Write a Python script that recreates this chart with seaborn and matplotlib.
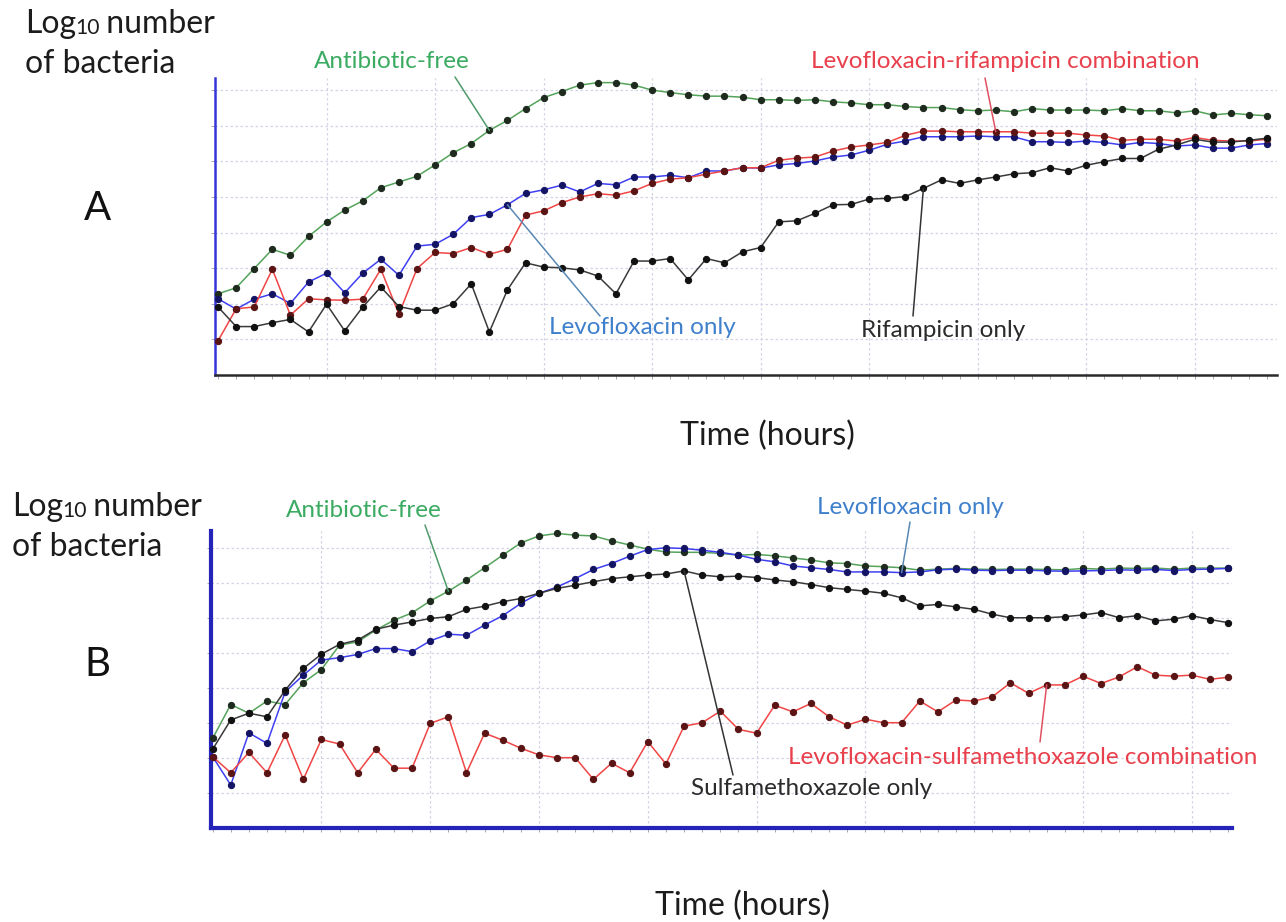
import matplotlib
matplotlib.use("Agg")
import matplotlib.pyplot as plt
from matplotlib.patches import ConnectionPatch
import seaborn as sns

# ---------------- data: log10 bacterial counts per sampling point ----------------
time_a = list(range(59))
time_b = list(range(57))

antibiotic_free_a = [
    2.28, 2.45, 2.99, 3.53, 3.36, 3.89, 4.30, 4.63, 4.89, 5.26, 5.42, 5.58, 5.90, 6.24, 6.50,
    6.87, 7.15, 7.48, 7.79, 7.96, 8.14, 8.21, 8.21, 8.14, 8.00, 7.93, 7.87, 7.83, 7.83, 7.80,
    7.73, 7.73, 7.71, 7.73, 7.67, 7.64, 7.59, 7.59, 7.54, 7.51, 7.51, 7.45, 7.42, 7.44, 7.39,
    7.48, 7.44, 7.44, 7.44, 7.42, 7.48, 7.42, 7.42, 7.36, 7.42, 7.30, 7.35, 7.31, 7.28]
levofloxacin_a = [
    2.14, 1.85, 2.13, 2.28, 2.01, 2.61, 2.86, 2.31, 2.86, 3.25, 2.80, 3.62, 3.67, 3.95, 4.42,
    4.51, 4.78, 5.10, 5.20, 5.33, 5.14, 5.38, 5.34, 5.56, 5.56, 5.61, 5.54, 5.73, 5.73, 5.82,
    5.81, 5.90, 5.94, 6.01, 6.12, 6.18, 6.31, 6.48, 6.57, 6.69, 6.69, 6.69, 6.71, 6.69, 6.69,
    6.55, 6.55, 6.53, 6.57, 6.53, 6.46, 6.53, 6.50, 6.43, 6.46, 6.37, 6.37, 6.46, 6.50]
levo_rif_combo_a = [
    0.96, 1.86, 1.91, 2.97, 1.68, 2.14, 2.11, 2.10, 2.13, 2.97, 1.71, 2.99, 3.44, 3.41, 3.58,
    3.39, 3.53, 4.49, 4.61, 4.84, 5.00, 5.09, 5.05, 5.17, 5.38, 5.50, 5.54, 5.64, 5.73, 5.82,
    5.82, 6.03, 6.09, 6.12, 6.29, 6.40, 6.46, 6.53, 6.73, 6.85, 6.85, 6.83, 6.83, 6.83, 6.83,
    6.79, 6.79, 6.79, 6.74, 6.71, 6.59, 6.62, 6.62, 6.57, 6.67, 6.59, 6.57, 6.57, 6.62]
rifampicin_a = [
    1.91, 1.36, 1.36, 1.47, 1.56, 1.21, 1.99, 1.24, 1.91, 2.47, 1.92, 1.82, 1.82, 2.00, 2.56,
    1.21, 2.39, 3.15, 3.03, 3.01, 2.95, 2.78, 2.28, 3.20, 3.20, 3.27, 2.67, 3.27, 3.15, 3.46,
    3.58, 4.30, 4.33, 4.54, 4.78, 4.79, 4.94, 4.96, 5.01, 5.24, 5.48, 5.38, 5.48, 5.56, 5.65,
    5.68, 5.82, 5.73, 5.89, 5.99, 6.08, 6.08, 6.34, 6.46, 6.62, 6.54, 6.54, 6.59, 6.65]

antibiotic_free_b = [
    2.56, 3.53, 3.28, 3.63, 3.53, 4.15, 4.53, 5.23, 5.32, 5.66, 5.94, 6.15, 6.49, 6.77, 7.09,
    7.44, 7.80, 8.15, 8.35, 8.42, 8.37, 8.35, 8.21, 8.09, 7.97, 7.89, 7.88, 7.88, 7.85, 7.80,
    7.82, 7.78, 7.72, 7.66, 7.58, 7.56, 7.49, 7.47, 7.44, 7.37, 7.40, 7.42, 7.40, 7.39, 7.40,
    7.40, 7.39, 7.38, 7.42, 7.40, 7.43, 7.42, 7.43, 7.40, 7.43, 7.43, 7.43]
levofloxacin_b = [
    2.04, 1.23, 2.72, 2.42, 3.89, 4.37, 4.80, 4.87, 4.96, 5.13, 5.13, 5.04, 5.35, 5.54, 5.51,
    5.80, 6.07, 6.42, 6.71, 6.89, 7.13, 7.39, 7.56, 7.77, 7.96, 8.01, 7.99, 7.94, 7.88, 7.80,
    7.68, 7.61, 7.49, 7.44, 7.39, 7.32, 7.32, 7.32, 7.30, 7.32, 7.38, 7.40, 7.37, 7.36, 7.37,
    7.37, 7.35, 7.34, 7.35, 7.36, 7.38, 7.37, 7.39, 7.36, 7.39, 7.40, 7.42]
sulfamethoxazole_b = [
    2.25, 3.09, 3.28, 3.18, 3.94, 4.56, 4.97, 5.25, 5.37, 5.68, 5.80, 5.89, 5.99, 6.04, 6.25,
    6.34, 6.47, 6.56, 6.71, 6.85, 6.94, 7.04, 7.13, 7.18, 7.23, 7.26, 7.35, 7.23, 7.18, 7.20,
    7.16, 7.09, 7.04, 6.96, 6.87, 6.82, 6.77, 6.71, 6.58, 6.35, 6.39, 6.32, 6.25, 6.11, 6.01,
    6.01, 6.01, 6.04, 6.09, 6.16, 6.01, 6.07, 5.92, 5.97, 6.07, 5.96, 5.87]
levo_sulfa_combo_b = [
    2.04, 1.58, 2.16, 1.58, 2.66, 1.39, 2.53, 2.40, 1.58, 2.25, 1.71, 1.71, 2.99, 3.18, 1.58,
    2.71, 2.51, 2.28, 2.09, 2.01, 2.01, 1.39, 1.85, 1.58, 2.47, 1.83, 2.91, 3.01, 3.34, 2.82,
    2.71, 3.51, 3.32, 3.56, 3.18, 2.94, 3.11, 3.01, 3.01, 3.63, 3.32, 3.66, 3.63, 3.75, 4.15,
    3.85, 4.09, 4.09, 4.34, 4.13, 4.32, 4.61, 4.37, 4.34, 4.37, 4.25, 4.31]

# ---------------- styling ----------------
sns.set_style("white")
plt.rcParams["font.family"] = ["Lato", "DejaVu Sans"]

W, H = 1286, 922
fig = plt.figure(figsize=(W / 100, H / 100), dpi=100)


def fx(x):
    return x / W


def fy(y):
    return 1 - y / H


GREEN, GREEN_TXT = "#55a35a", "#3bab62"
BLUE, BLUE_TXT = "#3f3ff2", "#3f80cc"
RED, RED_TXT = "#f04545", "#e8404c"
BLACK, BLACK_TXT = "#3a3a3a", "#2b2b2b"
INK = "#1c1c1c"

ax_a = fig.add_axes([fx(215), fy(375), (1277 - 215) / W, (375 - 78) / H])
ax_b = fig.add_axes([fx(211), fy(828), (1232 - 211) / W, (828 - 531) / H])


def draw_series(ax, t, values, line_color, dot_color, z):
    sns.lineplot(x=t, y=values, ax=ax, color=line_color, linewidth=1.1,
                 marker="o", markersize=4.5, markerfacecolor=dot_color,
                 markeredgecolor=dot_color, zorder=z, clip_on=False)


def style_axes(ax, n_points, xlim, ylim, left_color, bottom_color, lw):
    ax.set_xlim(*xlim)
    ax.set_ylim(*ylim)
    ax.set_xticks(list(range(6, n_points, 6)))
    ax.set_xticks(list(range(n_points)), minor=True)
    ax.set_yticks(list(range(1, 9)))
    ax.set_xticklabels([])
    ax.set_yticklabels([])
    ax.set_xlabel("")
    ax.set_ylabel("")
    ax.grid(which="major", color="#d2d4e6", linestyle=(0, (2, 2)), linewidth=0.9)
    ax.tick_params(which="both", direction="out", length=3, width=0.6, color="#9a9aa8",
                   bottom=True, left=True)
    for side in ("top", "right"):
        ax.spines[side].set_visible(False)
    ax.spines["left"].set_color(left_color)
    ax.spines["left"].set_linewidth(lw)
    ax.spines["bottom"].set_color(bottom_color)
    ax.spines["bottom"].set_linewidth(lw)
    ax.set_facecolor("white")


# Panel A
draw_series(ax_a, time_a, antibiotic_free_a, GREEN, "#1d2a1d", 3)
draw_series(ax_a, time_a, levofloxacin_a, BLUE, "#141464", 4)
draw_series(ax_a, time_a, levo_rif_combo_a, RED, "#5a1414", 5)
draw_series(ax_a, time_a, rifampicin_a, BLACK, "#111111", 6)
style_axes(ax_a, 59, (-0.17, 58.55), (0, 8.34), "#3535d8", "#2a2a2a", 1.8)

# Panel B
draw_series(ax_b, time_b, antibiotic_free_b, GREEN, "#1d2a1d", 3)
draw_series(ax_b, time_b, levofloxacin_b, BLUE, "#141464", 4)
draw_series(ax_b, time_b, sulfamethoxazole_b, BLACK, "#111111", 5)
draw_series(ax_b, time_b, levo_sulfa_combo_b, RED, "#5a1414", 6)
style_axes(ax_b, 57, (-0.09, 56.22), (0, 8.49), "#2424b8", "#2424b8", 3.0)

# ---------------- text ----------------
renderer = fig.canvas.get_renderer()
LABEL_SIZE = 23


def log_label(x, baseline, size):
    """'Log10 number' with a reduced-size 10, followed by 'of bacteria'."""
    t1 = fig.text(fx(x), fy(baseline), "Log", fontsize=size, va="baseline", color=INK)
    w1 = t1.get_window_extent(renderer).width
    t2 = fig.text(fx(x + w1 - 1), fy(baseline + 1), "10", fontsize=size * 0.66,
                  va="baseline", color=INK)
    w2 = t2.get_window_extent(renderer).width
    fig.text(fx(x + w1 + w2 - 3), fy(baseline), " number", fontsize=size,
             va="baseline", color=INK)
    fig.text(fx(x), fy(baseline + 40), "of bacteria", fontsize=size, va="baseline",
             color=INK)


log_label(25, 33, LABEL_SIZE)
log_label(12, 516, LABEL_SIZE)

fig.text(fx(98), fy(208), "A", fontsize=29, ha="center", va="center", color="#111111")
fig.text(fx(97), fy(665), "B", fontsize=29, ha="center", va="center", color="#111111")

fig.text(fx(767), fy(436), "Time (hours)", fontsize=LABEL_SIZE, ha="center", va="center",
         color=INK)
fig.text(fx(742), fy(906), "Time (hours)", fontsize=LABEL_SIZE, ha="center", va="center",
         color=INK)


def callout(ax, label, color, line_color, center, start, t, series, idx):
    fig.text(fx(center[0]), fy(center[1]), label, fontsize=17.5, ha="center", va="center",
             color=color)
    con = ConnectionPatch(xyA=(fx(start[0]), fy(start[1])), coordsA="figure fraction",
                          xyB=(t[idx], series[idx]), coordsB=ax.transData,
                          color=line_color, linewidth=1.1, zorder=10)
    fig.add_artist(con)


callout(ax_a, "Antibiotic-free", GREEN_TXT, "#4f9a6a", (392, 62), (455, 77),
        time_a, antibiotic_free_a, 15)
callout(ax_a, "Levofloxacin-rifampicin combination", RED_TXT, "#e05060", (1005, 62),
        (985, 78), time_a, levo_rif_combo_a, 43)
callout(ax_a, "Levofloxacin only", BLUE_TXT, "#5a88b4", (642, 328), (600, 316),
        time_a, levofloxacin_a, 16)
callout(ax_a, "Rifampicin only", BLACK_TXT, "#333333", (943, 330), (913, 316),
        time_a, rifampicin_a, 39)

callout(ax_b, "Antibiotic-free", GREEN_TXT, "#4f9a6a", (364, 510), (425, 525),
        time_b, antibiotic_free_b, 13)
callout(ax_b, "Levofloxacin only", BLUE_TXT, "#5a88b4", (910, 508), (910, 522),
        time_b, levofloxacin_b, 38)
callout(ax_b, "Sulfamethoxazole only", BLACK_TXT, "#333333", (812, 788), (733, 775),
        time_b, sulfamethoxazole_b, 26)
callout(ax_b, "Levofloxacin-sulfamethoxazole combination", RED_TXT, "#e05060",
        (1023, 757), (1040, 742), time_b, levo_sulfa_combo_b, 46)

fig.savefig("out.png", dpi=100, facecolor="white")
